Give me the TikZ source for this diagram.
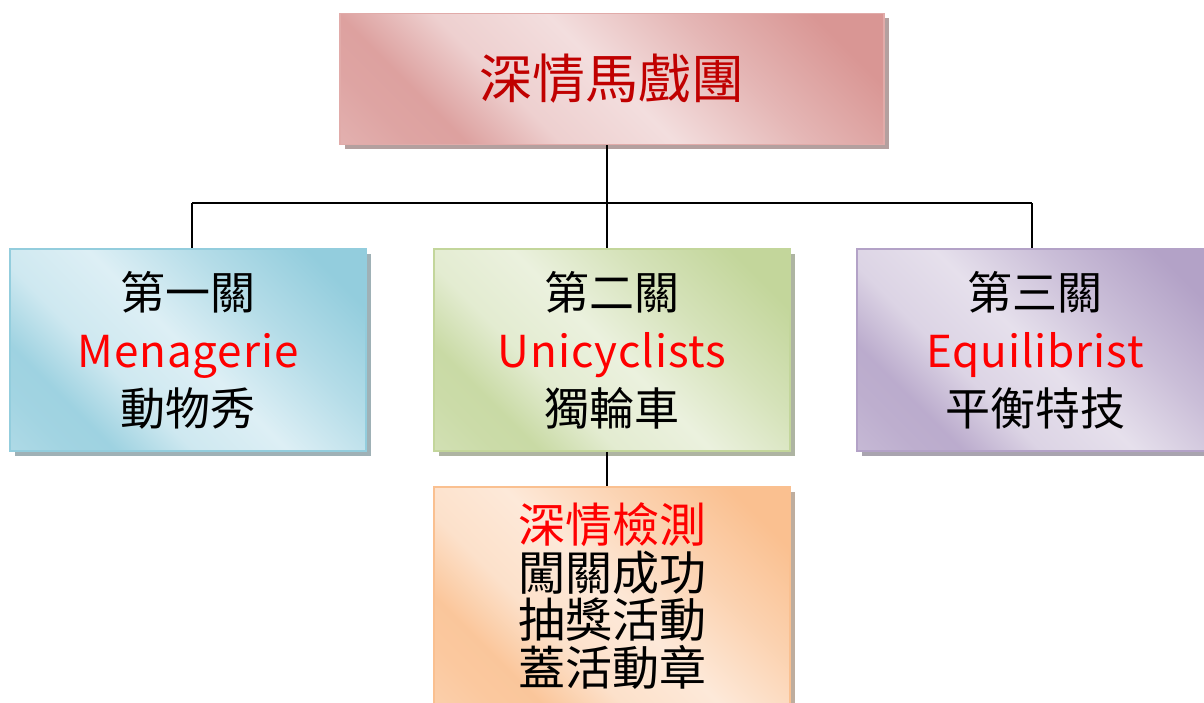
\documentclass[tikz,border=0pt]{standalone}
\usepackage{fontspec}
\newfontfamily\cjk{Noto Sans CJK TC}
\usetikzlibrary{shadows}
\definecolor{pkL}{HTML}{F3DEDE}\definecolor{pkD}{HTML}{D99694}
\definecolor{blL}{HTML}{DDEFF5}\definecolor{blD}{HTML}{93CDDD}
\definecolor{grL}{HTML}{EBF1DE}\definecolor{grD}{HTML}{C3D69B}
\definecolor{puL}{HTML}{E6E0EC}\definecolor{puD}{HTML}{B3A2C7}
\definecolor{orL}{HTML}{FDE9D9}\definecolor{orD}{HTML}{FAC090}
\definecolor{titlered}{HTML}{C00000}
\newcommand{\mkgloss}[3]{%
  \pgfdeclarehorizontalshading{#1}{100bp}{color(0bp)=(#3); color(22bp)=(#3);
    color(36bp)=(#3!55!#2); color(50bp)=(#2); color(62bp)=(#2!80!#3); color(72bp)=(#3!85!#2);
    color(78bp)=(#3!80!#2); color(100bp)=(#2!70!#3)}}
\mkgloss{glossPK}{pkL}{pkD}
\mkgloss{glossBL}{blL}{blD}
\mkgloss{glossGR}{grL}{grD}
\mkgloss{glossPU}{puL}{puD}
\mkgloss{glossOR}{orL}{orD}
\newcommand{\en}[1]{{\fontsize{44}{58}\selectfont\addfontfeatures{LetterSpace=2}\textcolor{red}{#1}}}
\tikzset{
  boxbase/.style={rectangle, inner sep=0pt, line width=1.5pt, align=center,
    font=\cjk\fontsize{45}{58}\selectfont, text=black, shading angle=225},
  shadowed/.style={drop shadow={fill=#1!55!black, opacity=0.55, shadow xshift=4.5pt, shadow yshift=-4.5pt}},
  pinkbox/.style={boxbase, draw=pkD!80!white, shading=glossPK, shadowed=pkD},
  bluebox/.style={boxbase, draw=blD, shading=glossBL, shadowed=blD},
  greenbox/.style={boxbase, draw=grD, shading=glossGR, shadowed=grD},
  purplebox/.style={boxbase, draw=puD, shading=glossPU, shadowed=puD},
  orangebox/.style={boxbase, draw=orD, shading=glossOR, shadowed=orD},
  conn/.style={draw=black, line width=1.3pt}
}
\begin{document}
\begin{tikzpicture}[x=1pt,y=-1pt]
\useasboundingbox (0,0) rectangle (1204,702);
% nodes
\node[pinkbox, minimum width=544pt, minimum height=131pt,
  font=\cjk\fontsize{53}{58}\selectfont, text=titlered] (top) at (612,79) {深情馬戲團};
\node[bluebox, minimum width=356pt, minimum height=202pt] (b1) at (188,350)
  {第一關\\ \en{Menagerie}\\ 動物秀};
\node[greenbox, minimum width=356pt, minimum height=202pt] (b2) at (612,350)
  {第二關\\ \en{Unicyclists}\\ 獨輪車};
\node[purplebox, minimum width=356pt, minimum height=202pt] (b3) at (1035,350)
  {第三關\\ \en{Equilibrist}\\ 平衡特技};
\node[orangebox, minimum width=356pt, minimum height=218pt,
  font=\cjk\fontsize{47}{47.5}\selectfont] (b4) at (612,596)
  {\textcolor{red}{深情檢測}\\ 闖關成功\\ 抽獎活動\\ 蓋活動章};
% connectors
\coordinate (hub) at ([xshift=-5pt]top.south |- 0,203);
\draw[conn] ([xshift=-5pt]top.south) -- (hub);
\draw[conn] ([xshift=4pt]b1.north |- hub) -- ([xshift=-3pt]b3.north |- hub);
\draw[conn] ([xshift=4pt]b1.north |- hub) -- ([xshift=4pt]b1.north);
\draw[conn] (hub) -- ([xshift=-5pt]b2.north);
\draw[conn] ([xshift=-3pt]b3.north |- hub) -- ([xshift=-3pt]b3.north);
\draw[conn] ([xshift=-5pt]b2.south) -- ([xshift=-5pt]b4.north);
\end{tikzpicture}
\end{document}
